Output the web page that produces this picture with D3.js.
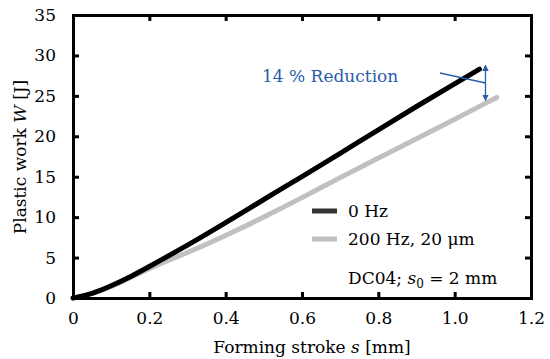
<!DOCTYPE html>
<html>
<head>
<meta charset="utf-8">
<script src="https://cdn.jsdelivr.net/npm/d3@7.9.0/dist/d3.min.js"></script>
<style>
  body { margin: 0; background: #fff; }
  svg text { font-family: "DejaVu Serif", "Liberation Serif", serif; }
</style>
</head>
<body>
<svg width="550" height="359"></svg>
<script>
// stroke [mm] and plastic work [J]
const stroke0 = [0, 0.05, 0.1, 0.15, 0.2, 0.3, 0.4, 0.5, 0.6, 0.7, 0.8, 0.9, 1.0, 1.065];
const work0 = [0, 0.5, 1.5, 2.6, 3.9, 6.5, 9.3, 12.2, 15.0, 17.9, 20.8, 23.7, 26.5, 28.3];
const stroke200 = [0, 0.05, 0.1, 0.15, 0.2, 0.3, 0.4, 0.5, 0.6, 0.7, 0.8, 0.9, 1.0, 1.11];
const work200 = [0, 0.5, 1.4, 2.5, 3.7, 5.6, 7.7, 10.0, 12.4, 14.9, 17.3, 19.7, 22.1, 24.8];
const xTicks = [0, 0.2, 0.4, 0.6, 0.8, 1.0, 1.2];
const yTicks = [0, 5, 10, 15, 20, 25, 30, 35];
const seriesNames = ["0 Hz", "200 Hz, 20 μm"];
const seriesColors = ["#000000", "#c0c0c0"];

const svg = d3.select("svg");
const pLeft = 73, pRight = 531, pTop = 15, pBottom = 298;
const fs = 17;

const x = d3.scaleLinear().domain([0, 1.2]).range([pLeft, pRight]);
const y = d3.scaleLinear().domain([0, 35]).range([pBottom, pTop]);

const line = d3.line()
  .x(d => x(d[0]))
  .y(d => y(d[1]))
  .curve(d3.curveBasis);

// curves (gray first so black sits on top)
const series = [
  d3.zip(stroke200, work200),
  d3.zip(stroke0, work0)
];
svg.append("path").datum(series[0])
  .attr("d", line).attr("fill", "none")
  .attr("stroke", seriesColors[1]).attr("stroke-width", 5)
  .attr("stroke-linecap", "round");
svg.append("path").datum(series[1])
  .attr("d", line).attr("fill", "none")
  .attr("stroke", seriesColors[0]).attr("stroke-width", 5)
  .attr("stroke-linecap", "round");

// axes: ticks pointing inwards, mirrored on top and right
const tickLen = 6;
const fmtX = d => d === 0 ? "0" : d3.format(".1f")(d);
svg.append("g").attr("transform", `translate(0,${pBottom})`)
  .call(d3.axisBottom(x).tickValues(xTicks).tickSize(-tickLen).tickPadding(14).tickFormat(fmtX));
svg.append("g").attr("transform", `translate(0,${pTop})`)
  .call(d3.axisTop(x).tickValues(xTicks).tickSize(-tickLen).tickFormat(""));
svg.append("g").attr("transform", `translate(${pLeft},0)`)
  .call(d3.axisLeft(y).tickValues(yTicks).tickSize(-tickLen).tickPadding(17));
svg.append("g").attr("transform", `translate(${pRight},0)`)
  .call(d3.axisRight(y).tickValues(yTicks).tickSize(-tickLen).tickFormat(""));

svg.selectAll(".domain").attr("stroke", "#000").attr("stroke-width", 3);
svg.selectAll(".tick line").attr("stroke", "#000").attr("stroke-width", 3);
svg.selectAll(".tick text")
  .attr("font-family", "DejaVu Serif, serif")
  .attr("font-size", fs).attr("fill", "#000");

// axis titles
const xt = svg.append("text")
  .attr("x", 312).attr("y", 353)
  .attr("text-anchor", "middle").attr("font-size", fs);
xt.append("tspan").text("Forming stroke ");
xt.append("tspan").attr("font-style", "italic").text("s");
xt.append("tspan").text(" [mm]");

const yt = svg.append("text")
  .attr("transform", `translate(26,157) rotate(-90)`)
  .attr("text-anchor", "middle").attr("font-size", fs);
yt.append("tspan").text("Plastic work ");
yt.append("tspan").attr("font-style", "italic").text("W");
yt.append("tspan").text("  [J]");

// legend
const lg = svg.append("g");
seriesNames.forEach((name, i) => {
  const ly = 211 + i * 28;
  lg.append("line")
    .attr("x1", 312).attr("x2", 337).attr("y1", ly).attr("y2", ly)
    .attr("stroke", i === 0 ? "#333" : seriesColors[1]).attr("stroke-width", 5);
  lg.append("text").attr("x", 348).attr("y", ly + 6)
    .attr("font-size", fs).text(name);
});
const note = lg.append("text").attr("x", 348).attr("y", 284).attr("font-size", fs);
note.append("tspan").text("DC04; ");
note.append("tspan").attr("font-style", "italic").text("s");
note.append("tspan").attr("font-size", 12).attr("dy", 4).text("0");
note.append("tspan").attr("dy", -4).text(" = 2 mm");

// reduction annotation
const blue = "#2a5caa";
const defs = svg.append("defs");
defs.append("marker").attr("id", "ah")
  .attr("viewBox", "0 0 10 10").attr("refX", 9).attr("refY", 5)
  .attr("markerWidth", 5).attr("markerHeight", 5).attr("orient", "auto-start-reverse")
  .append("path").attr("d", "M0,0L10,5L0,10z").attr("fill", blue);

const xEnd = stroke0[stroke0.length - 1];
const arrowX = x(xEnd) + 6;
svg.append("line")
  .attr("x1", arrowX).attr("x2", arrowX)
  .attr("y1", y(work0[work0.length - 1]) - 4).attr("y2", y(work200[work200.length - 1]) + 3)
  .attr("stroke", blue).attr("stroke-width", 1.3)
  .attr("marker-start", "url(#ah)").attr("marker-end", "url(#ah)");
svg.append("line")
  .attr("x1", 440).attr("y1", 73).attr("x2", arrowX).attr("y2", 83)
  .attr("stroke", blue).attr("stroke-width", 1.3);
svg.append("text").attr("x", 262).attr("y", 82)
  .attr("font-size", fs).attr("fill", blue).text("14 % Reduction");
</script>
</body>
</html>
